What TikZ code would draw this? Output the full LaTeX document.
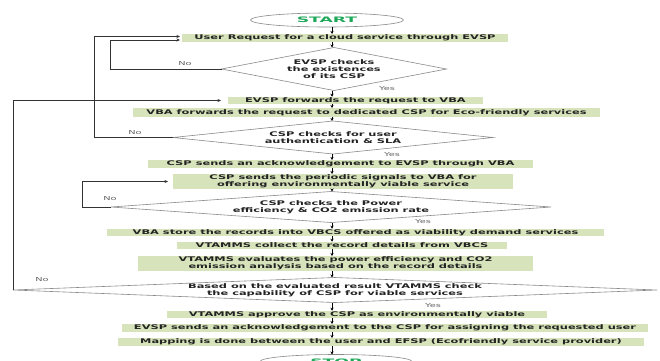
\documentclass[tikz,border=0pt]{standalone}
\usepackage{fontspec}
\usetikzlibrary{shapes.geometric,arrows.meta}
\newfontfamily\dvfont[FakeStretch=1.78]{DejaVu Sans}
\newfontfamily\termfont[FakeStretch=2.3]{DejaVu Sans}
\definecolor{boxfill}{HTML}{D7E4BB}
\definecolor{txt}{HTML}{222222}
\definecolor{dline}{HTML}{8A8A8A}
\definecolor{lline}{HTML}{333333}
\definecolor{startgreen}{HTML}{1FA85A}
\definecolor{lbl}{HTML}{666666}
\tikzset{
  every node/.style={inner sep=0pt, outer sep=0pt},
  box/.style={fill=boxfill, draw=none, align=center, text=txt,
    font=\dvfont\bfseries\fontsize{6.4}{7}\selectfont},
  dtext/.style={draw=none, align=center, text=txt,
    font=\dvfont\bfseries\fontsize{6.4}{7}\selectfont},
  dshape/.style={draw=dline, line width=0.6pt},
  term/.style={ellipse, draw=dline, line width=0.6pt, fill=white, text=startgreen,
    font=\termfont\bfseries\fontsize{7.5}{8}\selectfont},
  arr/.style={draw=black, line width=0.6pt, -{Stealth[length=3pt,width=3pt]}},
  looparr/.style={draw=lline, line width=0.7pt, -{Stealth[length=3.5pt,width=3pt]}},
  lab/.style={text=lbl, font=\dvfont\fontsize{5.5}{6}\selectfont},
}
\begin{document}
\begin{tikzpicture}[x=1pt,y=-1pt]
\useasboundingbox (0,0) rectangle (660,360);
\fill[white] (0,0) rectangle (660,360);
\coordinate (sp) at (332,0);
\coordinate (c1) at (110,0);
\coordinate (c2) at (94,0);
\coordinate (c3) at (82,0);
\coordinate (c4) at (13,0);

\node[term, minimum width=153pt, minimum height=14pt] (start) at (327,20) {START};
\node[box, minimum width=326pt, minimum height=8pt] (b1) at (345,38) {User Request for a cloud service through EVSP};
\node[dtext, minimum width=225pt, minimum height=43pt] (d1) at (334,69) {EVSP checks\\the existences\\of its CSP};
\node[box, minimum width=255pt, minimum height=7.5pt] (b2) at (355.5,100.5) {EVSP forwards the request to VBA};
\node[box, minimum width=467pt, minimum height=9pt] (b3) at (366.5,112.5) {VBA forwards the request to dedicated CSP for Eco-friendly services};
\node[dtext, minimum width=320pt, minimum height=33pt] (d2) at (333,137.5) {CSP checks for user\\authentication \& SLA};
\node[box, minimum width=385pt, minimum height=8pt] (b4) at (340.5,164) {CSP sends an acknowledgement to EVSP through VBA};
\node[box, minimum width=340pt, minimum height=15pt] (b5) at (343,181.5) {CSP sends the periodic signals to VBA for\\offering environmentally viable service};
\node[dtext, minimum width=440pt, minimum height=31pt] (d3) at (331,207) {CSP checks the Power\\efficiency \& CO2 emission rate};
\node[box, minimum width=497pt, minimum height=7.5pt] (b6) at (355.5,232.5) {VBA store the records into VBCS offered as viability demand services};
\node[box, minimum width=330pt, minimum height=7.5pt] (b7) at (342,245.5) {VTAMMS collect the record details from VBCS};
\node[box, minimum width=395pt, minimum height=15pt] (b8) at (335.5,263.5) {VTAMMS evaluates the power efficiency and CO2\\emission analysis based on the record details};
\node[dtext, minimum width=644pt, minimum height=25pt] (d4) at (335,290) {Based on the evaluated result VTAMMS check\\the capability of CSP for viable services};
\node[box, minimum width=380pt, minimum height=7.5pt] (b9) at (357,314.5) {VTAMMS approve the CSP as environmentally viable};
\node[box, minimum width=526pt, minimum height=8pt] (b10) at (385,328) {EVSP sends an acknowledgement to the CSP for assigning the requested user};
\node[box, minimum width=526pt, minimum height=8pt] (b11) at (381,342) {Mapping is done between the user and EFSP (Ecofriendly service provider)};
\node[term, minimum width=152pt, minimum height=14pt] (stop) at (336,361.5) {STOP};

\foreach \d in {d1,d2,d3,d4}
  \draw[dshape] (\d.west) -- (\d.north) -- (\d.east) -- (\d.south) -- cycle;

\draw[arr] (start.south -| sp) -- (b1.north -| sp);
\draw[arr] (b1.south -| sp) -- (d1.north -| sp);
\draw[arr] (d1.south -| sp) -- (b2.north -| sp);
\draw[arr] (b2.south -| sp) -- (b3.north -| sp);
\draw[arr] (b3.south -| sp) -- (d2.north -| sp);
\draw[arr] (d2.south -| sp) -- (b4.north -| sp);
\draw[arr] (b4.south -| sp) -- (b5.north -| sp);
\draw[arr] (b5.south -| sp) -- (d3.north -| sp);
\draw[arr] (d3.south -| sp) -- (b6.north -| sp);
\draw[arr] (b6.south -| sp) -- (b7.north -| sp);
\draw[arr] (b7.south -| sp) -- (b8.north -| sp);
\draw[arr] (b8.south -| sp) -- (d4.north -| sp);
\draw[arr] (d4.south -| sp) -- (b9.north -| sp);
\draw[arr] (b9.south -| sp) -- (b10.north -| sp);
\draw[arr] (b10.south -| sp) -- (b11.north -| sp);
\draw[arr] (b11.south -| sp) -- (stop.north -| sp);

\draw[looparr] (d1.west) -- (d1.west -| c1) |- ([yshift=-2pt,xshift=-2pt]b1.west);
\draw[looparr] (d2.west) -- (d2.west -| c2) |- ([yshift=1.5pt,xshift=-2pt]b1.west);
\draw[looparr] (d3.west) -- (d3.west -| c3) |- ([xshift=-5pt]b5.west);
\draw[looparr] (d4.west) -- (d4.west -| c4) |- ([xshift=-7pt]b2.west);

\node[lab] (no1) at (185,64) {No};
\node[lab] (no2) at (135,133) {No};
\node[lab] (no3) at (110,199) {No};
\node[lab] (no4) at (42,280) {No};
\node[lab] (yes1) at (387,89) {Yes};
\node[lab] (yes2) at (392,155) {Yes};
\node[lab] (yes3) at (423,222) {Yes};
\node[lab] (yes4) at (433,306) {Yes};
\end{tikzpicture}
\end{document}
